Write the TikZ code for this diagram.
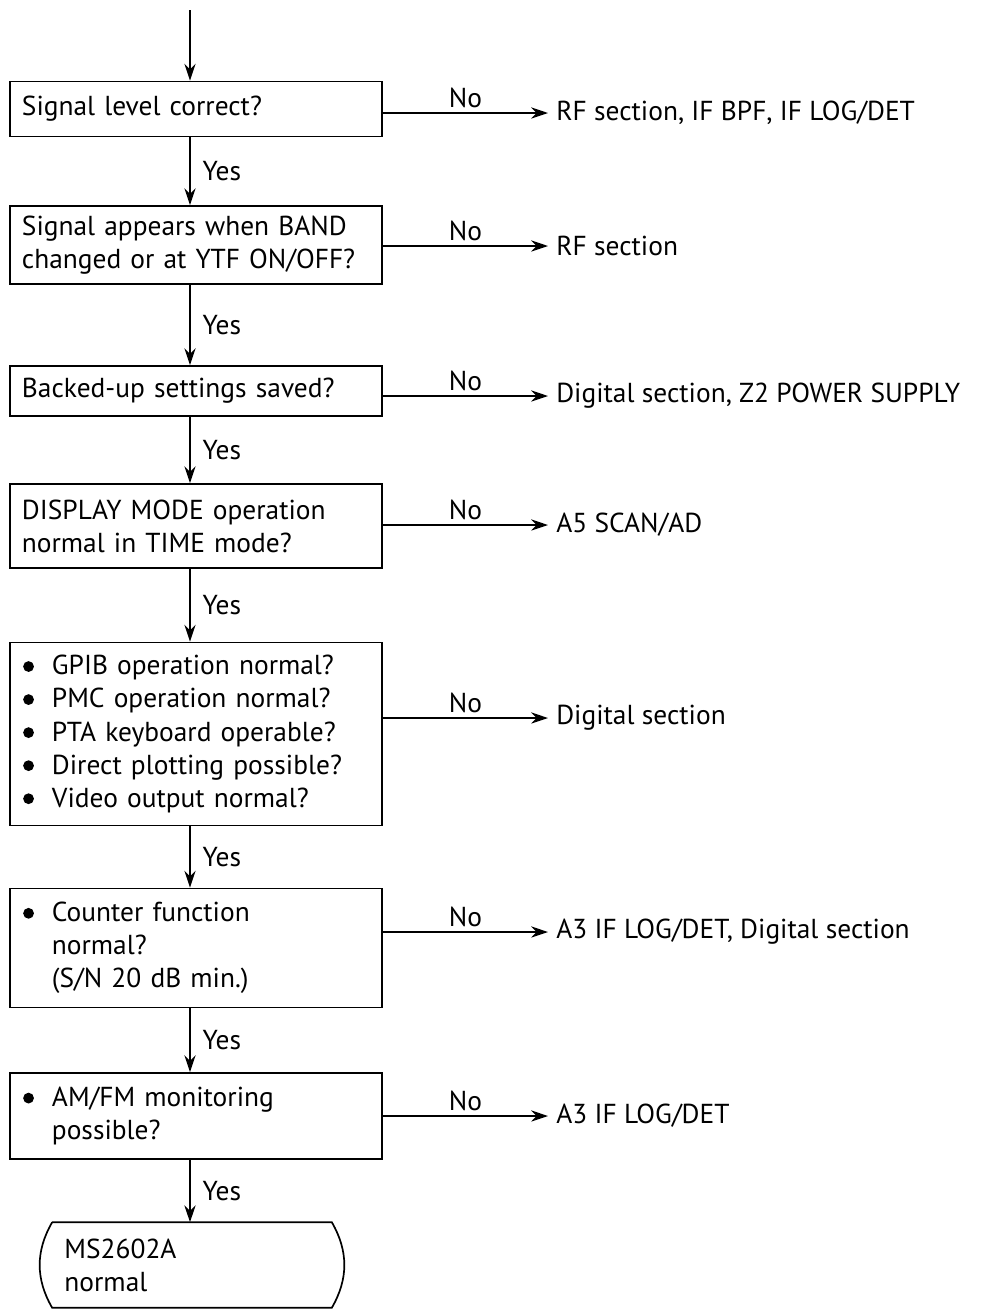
\documentclass[tikz,border=0pt]{standalone}
\usepackage{fontspec}
\setmainfont{PT Sans}
\usetikzlibrary{arrows.meta, calc}
\newcommand{\flowfont}{\fontsize{19.5}{23.5}\selectfont}
\newcommand{\bitem}{\makebox[7.5mm][l]{\hspace{0.3mm}\tikz[baseline={(0,-2.1mm)}]\fill (0,0) circle (1.35mm);}}
\newcommand{\bindent}{\hspace*{7.5mm}}
\tikzset{
  % question boxes
  qbox/.style  = {draw, rectangle, line width=1.2pt, minimum width=9.3cm,
                  text width=8.7cm, inner xsep=3mm, align=left, font=\flowfont},
  % end box (text only, outline drawn separately)
  endbox/.style = {rectangle, minimum width=6.975cm, minimum height=2.125cm,
                  text width=6.375cm, inner xsep=3mm, align=left, font=\flowfont},
  % connectors
  flow/.style  = {-{Stealth[length=4.2mm, width=2.8mm]}, line width=1.2pt},
  % labels
  yes/.style   = {midway, right, xshift=1.8mm, font=\flowfont},
  no/.style    = {midway, above, font=\flowfont},
  res/.style   = {anchor=west, inner xsep=2mm, font=\flowfont},
}
\begin{document}
\begin{tikzpicture}[x=0.025cm, y=-0.025cm]
  \useasboundingbox (0,0) rectangle (982,1309);
  % Questions
  \node[qbox, minimum height=1.375cm] (q1) at (196,109) {Signal level correct?};
  \node[qbox, minimum height=1.95cm]  (q2) at (196,245) {Signal appears when BAND\\changed or at YTF ON/OFF?};
  \node[qbox, minimum height=1.25cm]  (q3) at (196,391) {Backed-up settings saved?};
  \node[qbox, minimum height=2.1cm]   (q4) at (196,526) {DISPLAY MODE operation\\normal in TIME mode?};
  \node[qbox, minimum height=4.575cm] (q5) at (196,734) {\bitem GPIB operation normal?\\
    \bitem PMC operation normal?\\ \bitem PTA keyboard operable?\\
    \bitem Direct plotting possible?\\ \bitem Video output normal?};
  \node[qbox, minimum height=2.975cm] (q6) at (196,948) {\bitem Counter function\\
    \bindent normal?\\ \bindent (S/N 20 dB min.)};
  \node[qbox, minimum height=2.15cm]  (q7) at (196,1116) {\bitem AM/FM monitoring\\
    \bindent possible?};
  % Results
  \node[res] (r1) at (548,113)  {RF section, IF BPF, IF LOG/DET};
  \node[res] (r2) at (548,246)  {RF section};
  \node[res] (r3) at (548,396)  {Digital section, Z2 POWER SUPPLY};
  \node[res] (r4) at (548,525)  {A5 SCAN/AD};
  \node[res] (r5) at (548,718)  {Digital section};
  \node[res] (r6) at (548,932)  {A3 IF LOG/DET, Digital section};
  \node[res] (r7) at (548,1116) {A3 IF LOG/DET};
  % End
  \node[endbox] (fin) at (192,1265) {MS2602A\\normal};
  \draw[line width=1.2pt] (fin.north west) -- (fin.north east)
    to[bend left=30] (fin.south east) -- (fin.south west)
    to[bend left=30] (fin.north west);
  % Connectors
  \coordinate (in) at (190,10);
  \draw[flow] (in) -- ([xshift=-1.5mm]q1.north);
  \foreach \a/\b in {q1/q2, q2/q3, q3/q4, q4/q5, q5/q6, q6/q7}
    \draw[flow] ([xshift=-1.5mm]\a.south) -- node[yes] {Yes} ([xshift=-1.5mm]\b.north);
  \draw[flow] ([xshift=-1.5mm]q7.south) -- node[yes] {Yes} ([xshift=-1.5mm]q7.south |- fin.north);
  \foreach \i in {1,...,7}
    \draw[flow] (q\i.east |- r\i.west) -- node[no] {No} (r\i.west);
\end{tikzpicture}
\end{document}
